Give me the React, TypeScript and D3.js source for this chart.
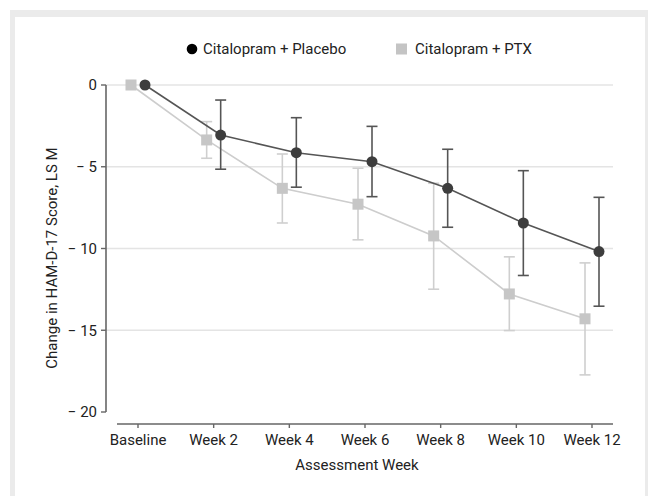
import React from 'react';
import * as d3 from 'd3';

const weeks = ['Baseline', 'Week 2', 'Week 4', 'Week 6', 'Week 8', 'Week 10', 'Week 12'];
const yTicks = [0, -5, -10, -15, -20];

// Citalopram + Placebo
const placeboMean = [0, -3.06, -4.14, -4.69, -6.32, -8.44, -10.19];
const placeboHi = [null, -0.92, -2.0, -2.53, -3.93, -5.24, -6.87];
const placeboLo = [null, -5.15, -6.25, -6.83, -8.7, -11.65, -13.53];

// Citalopram + PTX
const ptxMean = [0, -3.36, -6.32, -7.29, -9.23, -12.78, -14.3];
const ptxHi = [null, -2.24, -4.22, -5.09, -6.01, -10.51, -10.88];
const ptxLo = [null, -4.48, -8.44, -9.47, -12.49, -15.02, -17.73];

const W = 648;
const H = 496;
const FONT = 'Roboto, "Noto Sans", sans-serif';

const App = () => {
  const x = d3.scalePoint<string>().domain(weeks).range([138, 592]);
  const y = d3.scaleLinear().domain([0, -20]).range([85, 412]);
  const dodge = 7;

  const series = [
    { name: 'Citalopram + PTX', mean: ptxMean, hi: ptxHi, lo: ptxLo, dx: -dodge, color: '#c6c6c6', line: '#cdcdcd', err: '#cfcfcf', shape: 'square' },
    { name: 'Citalopram + Placebo', mean: placeboMean, hi: placeboHi, lo: placeboLo, dx: dodge, color: '#3d3d3d', line: '#555', err: '#555', shape: 'circle' },
  ];

  const line = (s: any) =>
    d3.line<number>()
      .x((_, i) => (x(weeks[i]) as number) + s.dx)
      .y(d => y(d))(s.mean) as string;

  return (
    <svg width={W} height={H} style={{ position: 'absolute', left: 0, top: 0, fontFamily: FONT }}>
      <rect x={0} y={0} width={W} height={H} fill="#fff" />
      <rect x={10} y={10} width={W - 10} height={H - 10} fill="#ebebeb" />
      <rect x={15} y={17} width={630} height={H - 17} fill="#fff" />

      {/* gridlines */}
      {yTicks.slice(0, 4).map(t => (
        <line key={t} x1={106} x2={613} y1={y(t)} y2={y(t)} stroke="#e4e4e4" strokeWidth={1.5} />
      ))}

      {/* y axis */}
      <line x1={106} x2={106} y1={y(0)} y2={y(-20)} stroke="#666" strokeWidth={1.6} />
      {yTicks.map(t => (
        <g key={t} transform={`translate(0,${y(t)})`}>
          <line x1={101} x2={106} stroke="#666" strokeWidth={1.4} />
          <text x={97} dy="0.36em" textAnchor="end" fontSize={15} fill="#222">
            {t === 0 ? '0' : `\u2212 ${Math.abs(t)}`}
          </text>
        </g>
      ))}
      <text transform="translate(57,258) rotate(-90)" textAnchor="middle" fontSize={15} fill="#222">
        Change in HAM-D-17 Score, LS M
      </text>

      {/* x axis */}
      <line x1={117} x2={613} y1={424} y2={424} stroke="#666" strokeWidth={1.6} />
      {weeks.map(w => (
        <g key={w} transform={`translate(${x(w)},424)`}>
          <line y1={0} y2={4} stroke="#666" strokeWidth={1.4} />
          <text y={21} textAnchor="middle" fontSize={15} fill="#222">{w}</text>
        </g>
      ))}
      <text x={357} y={470} textAnchor="middle" fontSize={15} fill="#222">Assessment Week</text>

      {/* series */}
      {series.map(s => (
        <g key={s.name}>
          <path d={line(s)} fill="none" stroke={s.line} strokeWidth={1.6} />
          {s.mean.map((m, i) => {
            const cx = (x(weeks[i]) as number) + s.dx;
            const hi = s.hi[i];
            const lo = s.lo[i];
            return (
              <g key={i}>
                {hi !== null && lo !== null && (
                  <g stroke={s.err} strokeWidth={1.6}>
                    <line x1={cx} x2={cx} y1={y(hi)} y2={y(lo)} />
                    <line x1={cx - 5.5} x2={cx + 5.5} y1={y(hi)} y2={y(hi)} />
                    <line x1={cx - 5.5} x2={cx + 5.5} y1={y(lo)} y2={y(lo)} />
                  </g>
                )}
                {s.shape === 'circle' ? (
                  <circle cx={cx} cy={y(m)} r={5.5} fill={s.color} />
                ) : (
                  <rect x={cx - 5.5} y={y(m) - 5.5} width={11} height={11} fill={s.color} />
                )}
              </g>
            );
          })}
        </g>
      ))}

      {/* legend */}
      <circle cx={192} cy={49} r={5.3} fill="#000" />
      <text x={203} y={54} fontSize={15} fill="#222">Citalopram + Placebo</text>
      <rect x={396} y={43.5} width={11} height={11} fill="#c4c4c4" />
      <text x={415} y={54} fontSize={15} fill="#222">Citalopram + PTX</text>
    </svg>
  );
};

export default App;
